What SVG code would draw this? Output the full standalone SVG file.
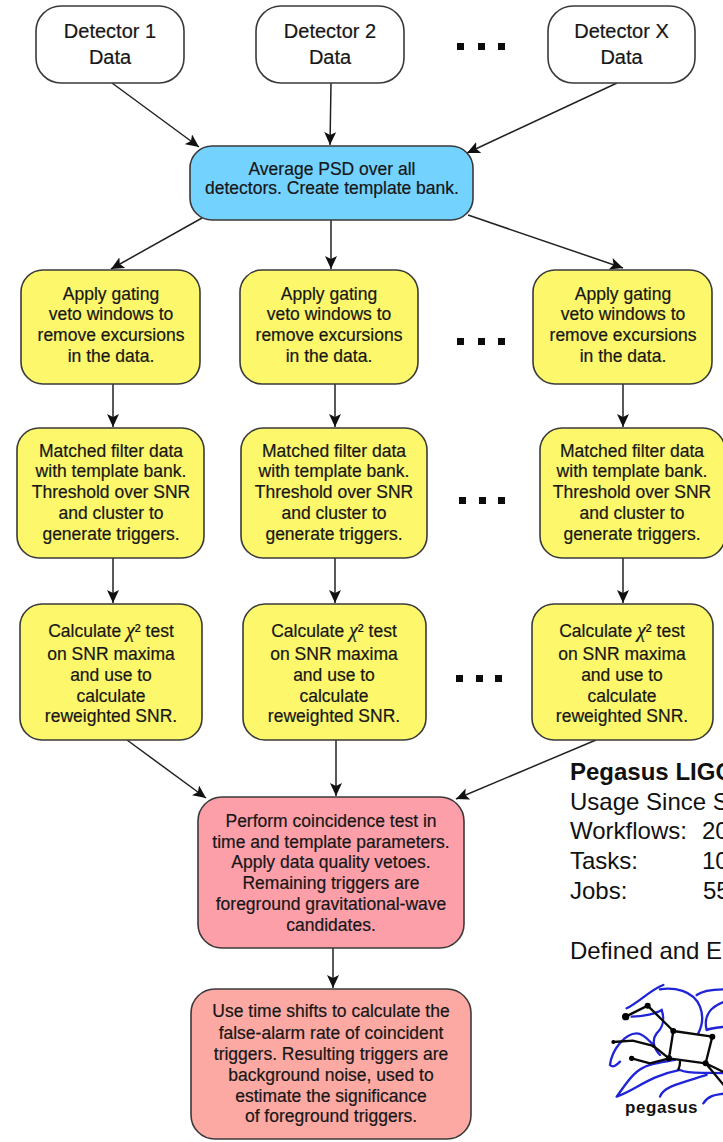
<svg xmlns="http://www.w3.org/2000/svg" width="723" height="1142" viewBox="0 0 723 1142">
<style>
text{font-family:"Liberation Sans",Arial,sans-serif;fill:#161616;text-anchor:middle}
.n{stroke:#3a3a3a;stroke-width:1.6}
.w{fill:#fff}.b{fill:#74d2ff}.y{fill:#fdf76b}.p{fill:#fd9fa9}.s{fill:#fca9a3}
.t{font-size:17.5px;stroke:#161616;stroke-width:.2px}.d{font-size:20px;stroke:#161616;stroke-width:.2px}
.i{font-size:24px;text-anchor:start;fill:#111}
.c{font-family:"Liberation Serif",serif;font-style:italic;font-size:20px}
.e{stroke:#222;stroke-width:1.5;fill:none;marker-end:url(#a)}
.lb{fill:none;stroke:#1f25d6;stroke-width:7;stroke-linecap:round}
.lk{fill:none;stroke:#0a0a0a;stroke-width:7;stroke-linecap:round;stroke-linejoin:round}
</style>
<defs>
<marker id="a" markerUnits="userSpaceOnUse" markerWidth="14" markerHeight="12" refX="13" refY="6" orient="auto">
<path d="M0 0L13 6L0 12L3 6Z" fill="#111"/>
</marker>
</defs>
<rect width="723" height="1142" fill="#fff"/>
<g id="connectors">
<line class="e" x1="112" y1="83" x2="199" y2="147"/>
<line class="e" x1="331" y1="83" x2="330" y2="145"/>
<line class="e" x1="617" y1="83" x2="467" y2="153"/>
<line class="e" x1="202" y1="218" x2="111" y2="269"/>
<line class="e" x1="331" y1="220" x2="331" y2="269"/>
<line class="e" x1="468" y1="215" x2="623" y2="268"/>
<line class="e" x1="113" y1="384" x2="113" y2="427"/>
<line class="e" x1="335" y1="384" x2="335" y2="427"/>
<line class="e" x1="623" y1="384" x2="623" y2="427"/>
<line class="e" x1="113" y1="558" x2="113" y2="603"/>
<line class="e" x1="335" y1="558" x2="335" y2="603"/>
<line class="e" x1="623" y1="558" x2="623" y2="603"/>
<line class="e" x1="127" y1="740" x2="206" y2="798"/>
<line class="e" x1="336" y1="740" x2="336" y2="796"/>
<line class="e" x1="596" y1="740" x2="456" y2="799"/>
<line class="e" x1="333" y1="948" x2="333" y2="988"/>
</g>
<g id="det1"><rect class="n w" x="36" y="6" width="148" height="77" rx="25"/><text class="d" x="110" y="38">Detector 1</text><text class="d" x="110" y="64">Data</text></g>
<g id="det2"><rect class="n w" x="256" y="6" width="148" height="77" rx="25"/><text class="d" x="330" y="38">Detector 2</text><text class="d" x="330" y="64">Data</text></g>
<g id="detx"><rect class="n w" x="548" y="6" width="147" height="77" rx="25"/><text class="d" x="621.500" y="38">Detector X</text><text class="d" x="621.500" y="64">Data</text></g>
<g id="psd"><rect class="n b" x="190" y="146" width="283" height="74" rx="22"/><text class="t" x="332" y="175">Average PSD over all</text><text class="t" x="332" y="194">detectors. Create template bank.</text></g>
<g id="gate1"><rect class="n y" x="21" y="270" width="179" height="114" rx="22"/><text class="t" x="111" y="300">Apply gating</text><text class="t" x="111" y="320">veto windows to</text><text class="t" x="111" y="341">remove excursions</text><text class="t" x="111" y="362">in the data.</text></g>
<g id="gate2"><rect class="n y" x="240" y="270" width="178" height="114" rx="22"/><text class="t" x="329" y="300">Apply gating</text><text class="t" x="329" y="320">veto windows to</text><text class="t" x="329" y="341">remove excursions</text><text class="t" x="329" y="362">in the data.</text></g>
<g id="gatex"><rect class="n y" x="533" y="270" width="179" height="114" rx="22"/><text class="t" x="623" y="300">Apply gating</text><text class="t" x="623" y="320">veto windows to</text><text class="t" x="623" y="341">remove excursions</text><text class="t" x="623" y="362">in the data.</text></g>
<g id="filter1"><rect class="n y" x="17" y="428" width="187" height="130" rx="22"/><text class="t" x="111" y="457">Matched filter data</text><text class="t" x="111" y="477">with template bank.</text><text class="t" x="111" y="498">Threshold over SNR</text><text class="t" x="111" y="519">and cluster to</text><text class="t" x="111" y="540">generate triggers.</text></g>
<g id="filter2"><rect class="n y" x="241" y="428" width="186" height="130" rx="22"/><text class="t" x="334" y="457">Matched filter data</text><text class="t" x="334" y="477">with template bank.</text><text class="t" x="334" y="498">Threshold over SNR</text><text class="t" x="334" y="519">and cluster to</text><text class="t" x="334" y="540">generate triggers.</text></g>
<g id="filterx"><rect class="n y" x="540" y="428" width="185" height="130" rx="22"/><text class="t" x="632" y="457">Matched filter data</text><text class="t" x="632" y="477">with template bank.</text><text class="t" x="632" y="498">Threshold over SNR</text><text class="t" x="632" y="519">and cluster to</text><text class="t" x="632" y="540">generate triggers.</text></g>
<g id="chi1"><rect class="n y" x="20" y="604" width="182" height="136" rx="22"/><text class="t" x="111" y="637">Calculate <tspan class="c">χ</tspan>² test</text><text class="t" x="111" y="660">on SNR maxima</text><text class="t" x="111" y="681">and use to</text><text class="t" x="111" y="702">calculate</text><text class="t" x="111" y="722">reweighted SNR.</text></g>
<g id="chi2"><rect class="n y" x="243" y="604" width="183" height="136" rx="22"/><text class="t" x="334" y="637">Calculate <tspan class="c">χ</tspan>² test</text><text class="t" x="334" y="660">on SNR maxima</text><text class="t" x="334" y="681">and use to</text><text class="t" x="334" y="702">calculate</text><text class="t" x="334" y="722">reweighted SNR.</text></g>
<g id="chix"><rect class="n y" x="532" y="604" width="181" height="136" rx="22"/><text class="t" x="622" y="637">Calculate <tspan class="c">χ</tspan>² test</text><text class="t" x="622" y="660">on SNR maxima</text><text class="t" x="622" y="681">and use to</text><text class="t" x="622" y="702">calculate</text><text class="t" x="622" y="722">reweighted SNR.</text></g>
<g id="coinc"><rect class="n p" x="198" y="797" width="266" height="151" rx="24"/><text class="t" x="331" y="827">Perform coincidence test in</text><text class="t" x="331" y="848">time and template parameters.</text><text class="t" x="331" y="868">Apply data quality vetoes.</text><text class="t" x="331" y="889">Remaining triggers are</text><text class="t" x="331" y="910">foreground gravitational-wave</text><text class="t" x="331" y="931">candidates.</text></g>
<g id="bg"><rect class="n s" x="191" y="989" width="280" height="150" rx="24"/><text class="t" x="331" y="1017">Use time shifts to calculate the</text><text class="t" x="331" y="1039">false-alarm rate of coincident</text><text class="t" x="331" y="1060">triggers. Resulting triggers are</text><text class="t" x="331" y="1081">background noise, used to</text><text class="t" x="331" y="1102">estimate the significance</text><text class="t" x="331" y="1122">of foreground triggers.</text></g>
<g id="dots" fill="#0c0c0c">
<rect x="457" y="43" width="7" height="7"/><rect x="478" y="43" width="7" height="7"/><rect x="498" y="43" width="7" height="7"/>
<rect x="457" y="338" width="7" height="7"/><rect x="478" y="338" width="7" height="7"/><rect x="498" y="338" width="7" height="7"/>
<rect x="459" y="497" width="7" height="7"/><rect x="479" y="497" width="7" height="7"/><rect x="498" y="497" width="7" height="7"/>
<rect x="456" y="675" width="7" height="7"/><rect x="476" y="675" width="7" height="7"/><rect x="495" y="675" width="7" height="7"/>
</g>
<g id="info">
<text class="i" x="570" y="780" font-weight="bold">Pegasus LIGO</text>
<text class="i" x="570" y="810">Usage Since S</text>
<text class="i" x="570" y="839">Workflows:</text><text class="i" x="702" y="839">20</text>
<text class="i" x="570" y="869">Tasks:</text><text class="i" x="702" y="869">10</text>
<text class="i" x="570" y="899">Jobs:</text><text class="i" x="703" y="899">55</text>
<text class="i" x="570" y="959">Defined and E</text>
</g>
<g id="logo">
<g transform="translate(560 750) scale(.3333)">
<path class="lb" d="M200 775C240 755 270 720 310 705M300 718C340 712 400 720 420 770C432 800 425 830 415 850M410 735C430 720 460 718 495 718M440 840C430 800 450 770 495 755M440 840C450 835 480 832 495 830M215 800C250 800 290 790 305 780C315 810 310 830 290 850C275 870 280 895 300 915M150 945C155 900 195 850 230 850C250 850 265 870 275 880M150 945C160 955 170 945 180 935M170 1040C200 1000 220 960 270 945C300 935 320 935 345 930M170 1040C230 1020 260 980 360 960C390 975 440 965 495 970M300 1040C310 1010 360 1000 440 975M430 1060C450 1030 480 1035 495 1030"/>
<path class="lk" d="M197 800L263 767L340 843L457 860L437 940L327 925L340 843M160 876L218 872L280 888L327 925M215 925L270 940L327 925M437 940L495 1010M437 940L495 968M360 935C360 945 360 950 355 958"/>
<circle cx="197" cy="800" r="11"/><circle cx="263" cy="767" r="9"/><circle cx="340" cy="843" r="9"/><circle cx="457" cy="860" r="9"/><circle cx="437" cy="940" r="9"/><circle cx="327" cy="925" r="9"/><circle cx="280" cy="888" r="5"/><circle cx="160" cy="876" r="6"/><circle cx="215" cy="925" r="8"/>
</g>
<text x="625" y="1113" style="font-size:17px;font-weight:bold;text-anchor:start;letter-spacing:.6px;fill:#111">pegasus</text>
</g>
</svg>
